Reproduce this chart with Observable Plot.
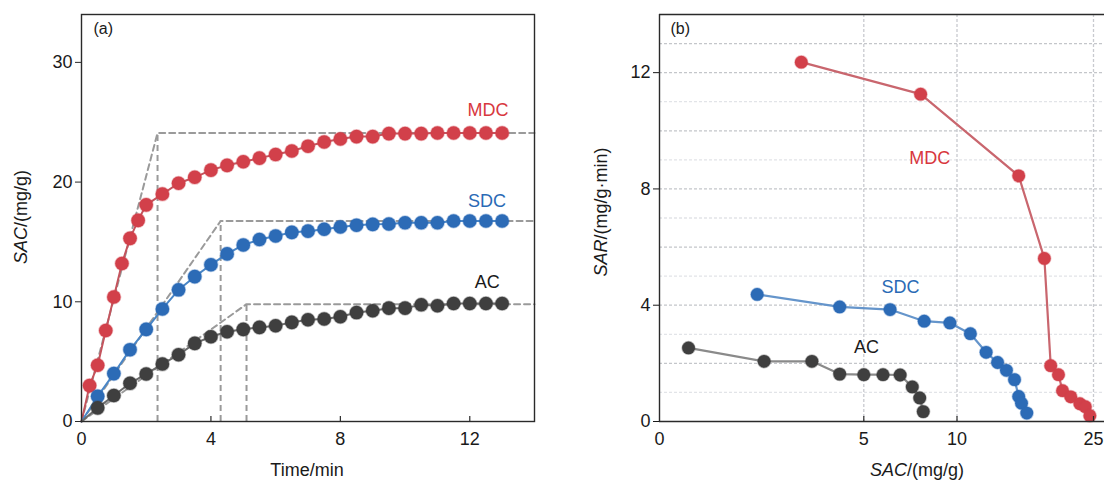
<!DOCTYPE html>
<html><head><meta charset="utf-8">
<script src="https://cdn.jsdelivr.net/npm/d3@7"></script>
<script src="https://cdn.jsdelivr.net/npm/@observablehq/plot@0.6"></script>
<style>
body{margin:0;background:#fff;overflow:hidden;}
#wrap{display:flex;width:1104px;height:480px;overflow:hidden;}
#wrap svg{display:block;flex:none;}
</style></head><body><div id="wrap"></div>
<script>
// ---------- Panel (a): SAC vs time ----------
const timeMDC = [0.25,0.5,0.75,1,1.25,1.5,1.75,2,2.5,3,3.5,4,4.5,5,5.5,6,6.5,7,7.5,8,8.5,9,9.5,10,10.5,11,11.5,12,12.5,13];
const sacMDC  = [3.0,4.7,7.6,10.4,13.2,15.3,16.8,18.1,19.0,19.9,20.4,21.0,21.4,21.7,22.0,22.3,22.6,23.0,23.35,23.6,23.8,23.8,24.05,24.05,24.05,24.1,24.1,24.1,24.1,24.1];
const timeSDC = [0.5,1,1.5,2,2.5,3,3.5,4,4.5,5,5.5,6,6.5,7,7.5,8,8.5,9,9.5,10,10.5,11,11.5,12,12.5,13];
const sacSDC  = [2.1,4.0,6.0,7.7,9.4,11.0,12.1,13.1,14.0,14.75,15.2,15.5,15.8,15.9,16.06,16.25,16.4,16.47,16.5,16.6,16.6,16.6,16.75,16.75,16.75,16.75];
const timeAC  = [0.5,1,1.5,2,2.5,3,3.5,4,4.5,5,5.5,6,6.5,7,7.5,8,8.5,9,9.5,10,10.5,11,11.5,12,12.5,13];
const sacAC   = [1.14,2.17,3.19,3.97,4.8,5.58,6.53,7.08,7.5,7.7,7.86,8.0,8.28,8.5,8.56,8.75,9.1,9.25,9.47,9.47,9.75,9.67,9.86,9.86,9.86,9.86];
// equilibrium knees (dashed guides)
const kneeTime = [2.35, 4.3, 5.1];
const kneeSAC  = [24.1, 16.75, 9.8];
const seriesNames = ["MDC","SDC","AC"];
const xTicksA = [0,4,8,12];
const yTicksA = [0,10,20,30];
const xMaxA = 14, yMaxA = 34;

// ---------- Panel (b): SAR vs SAC ----------
const sacB_MDC = [3.47,8.05,16.78,19.6,20.3,21.15,21.6,22.5,23.5,24.1,24.6];
const sarB_MDC = [12.36,11.26,8.45,5.61,1.92,1.61,1.06,0.85,0.61,0.51,0.2];
const sacB_SDC = [2.39,4.41,6.41,8.24,9.62,11.47,13.2,14.46,15.43,16.32,16.78,17.09,17.67];
const sarB_SDC = [4.37,3.94,3.85,3.45,3.39,3.02,2.38,2.03,1.76,1.44,0.86,0.63,0.29];
const sacB_AC  = [0.71,2.56,3.73,4.41,5.0,6.03,6.95,7.6,8.0,8.19];
const sarB_AC  = [2.53,2.07,2.07,1.63,1.61,1.61,1.6,1.19,0.81,0.34];
const xTicksB = [0,5,10,25];
const yTicksB = [0,4,8,12];
const gridMajorB = [2,4,6,8,10,12,13];
const gridMinorB = [1,3,5,7,9,11];
const gridXB = [5,10,25];

const dotColor  = {MDC:"#d2404a", SDC:"#2c6bb6", AC:"#3f3f3f"};
const lineColor = {MDC:"#c4545d", SDC:"#4a86c6", AC:"#6a6a6a"};
const lineColorB= {MDC:"#c9666e", SDC:"#6595cb", AC:"#8a8a8a"};
const textColor = {MDC:"#d8373e", SDC:"#2a6ab5", AC:"#1a1a1a"};

const FONT = "'Liberation Sans', Arial, Helvetica, sans-serif";
const FS = 18;

const zip = (name, xs, ys) => xs.map((x,i)=>({s:name, x, y:ys[i]}));
const A = [...zip("MDC",timeMDC,sacMDC), ...zip("SDC",timeSDC,sacSDC), ...zip("AC",timeAC,sacAC)];
const Aline = seriesNames.flatMap(n => [{s:n,x:0,y:0}, ...A.filter(d=>d.s===n)]);
const guides = seriesNames.flatMap((n,i)=>[{s:n,x:0,y:0},{s:n,x:kneeTime[i],y:kneeSAC[i]},{s:n,x:xMaxA,y:kneeSAC[i]}]);
const guideV = seriesNames.map((n,i)=>({x:kneeTime[i], y:kneeSAC[i]}));

const B = [...zip("MDC",sacB_MDC,sarB_MDC), ...zip("SDC",sacB_SDC,sarB_SDC), ...zip("AC",sacB_AC,sarB_AC)];

const W = 552, H = 480;
const mlA = 81, mrA = 18, mt = 14, mb = 59;

const plotA = Plot.plot({
  width: W, height: H,
  marginLeft: mlA, marginRight: mrA, marginTop: mt, marginBottom: mb,
  style: {fontFamily: FONT, fontSize: FS+"px", color:"#1a1a1a", background:"#fff"},
  x: {domain:[0,xMaxA]},
  y: {domain:[0,yMaxA]},
  marks: [
    Plot.ruleX(guideV, {x:"x", y1:0, y2:"y", stroke:"#9a9a9a", strokeWidth:2, strokeDasharray:"6,4"}),
    Plot.line(guides, {x:"x", y:"y", z:"s", stroke:"#9a9a9a", strokeWidth:2, strokeDasharray:"6,4"}),
    Plot.line(Aline, {x:"x", y:"y", z:"s", stroke:d=>lineColor[d.s], strokeWidth:2}),
    Plot.dot(A, {x:"x", y:"y", r:6.8, fill:d=>dotColor[d.s], stroke:d=>dotColor[d.s], strokeOpacity:0.35, strokeWidth:1.5}),
    Plot.frame({stroke:"#2a2a2a", strokeWidth:1.4}),
    Plot.ruleX(xTicksA.slice(1), {stroke:"#2a2a2a", strokeWidth:1.2, insetTop: H-mt-mb-5}),
    Plot.axisX({ticks:xTicksA, tickSize:0, tickPadding:11, label:null}),
    Plot.axisY({ticks:yTicksA, tickSize:6, tickPadding:3, label:null, stroke:"#2a2a2a"}),
    Plot.text(["(a)"], {frameAnchor:"top-left", dx:12, dy:8, fontSize:16, fill:"#1a1a1a"}),
    Plot.text(seriesNames, {x:[13.2,13.12,12.93], y:[26.04,18.4,11.63], text:d=>d, textAnchor:"end", fill:d=>textColor[d], fontSize:FS}),
  ]
});

const mlB = 107;
const plotB = Plot.plot({
  width: W, height: H,
  marginLeft: mlB, marginRight: 0, marginTop: mt, marginBottom: mb,
  style: {fontFamily: FONT, fontSize: FS+"px", color:"#1a1a1a", background:"#fff"},
  x: {type:"linear", domain:[0,5,10,25,26.3], range:[107,311.3,404.5,541,552.8]},
  y: {domain:[0,14]},
  marks: [
    Plot.ruleY(gridMinorB, {stroke:"#e2e4e8", strokeWidth:1.3, strokeDasharray:"3,2"}),
    Plot.ruleY(gridMajorB, {stroke:"#c4c6ca", strokeWidth:1.3, strokeDasharray:"3,2"}),
    Plot.ruleX(gridXB, {stroke:"#c8cacf", strokeWidth:1.3, strokeDasharray:"3,2"}),
    Plot.line(B, {x:"x", y:"y", z:"s", stroke:d=>lineColorB[d.s], strokeWidth:2.2}),
    Plot.dot(B, {x:"x", y:"y", r:6.4, fill:d=>dotColor[d.s], stroke:d=>dotColor[d.s], strokeOpacity:0.35, strokeWidth:1.5}),
    Plot.ruleY([0], {stroke:"#2a2a2a", strokeWidth:1.4}),
    Plot.ruleY([14], {stroke:"#2a2a2a", strokeWidth:1.4}),
    Plot.ruleX([0], {stroke:"#2a2a2a", strokeWidth:1.4}),
    Plot.ruleX(xTicksB.slice(1), {stroke:"#2a2a2a", strokeWidth:1.2, insetTop: H-mt-mb-5}),
    Plot.axisX({ticks:xTicksB, tickSize:0, tickPadding:11, label:null, tickFormat:d=>String(d)}),
    Plot.axisY({ticks:yTicksB, tickSize:6, tickPadding:3, label:null}),
    Plot.text(["(b)"], {frameAnchor:"top-left", dx:11, dy:8, fontSize:16, fill:"#1a1a1a"}),
    Plot.text(seriesNames, {x:[7.44,5.95,4.76], y:[9.05,4.63,2.56], text:d=>d, textAnchor:"start", fill:d=>textColor[d], fontSize:FS}),
  ]
});

function addLabel(svg, x, y, rot, parts) {
  const t = d3.select(svg).append("text")
    .attr("transform", `translate(${x},${y}) rotate(${rot})`)
    .attr("text-anchor","middle")
    .attr("font-family", FONT).attr("font-size", FS).attr("fill","#1a1a1a");
  parts.forEach(([s,it]) => t.append("tspan").text(s).attr("font-style", it ? "italic" : "normal"));
}
addLabel(plotA, 307, 476, 0, [["Time/min",false]]);
addLabel(plotA, 27, 217, -90, [["SAC",true],["/(mg/g)",false]]);
addLabel(plotB, 365, 476, 0, [["SAC",true],["/(mg/g)",false]]);
addLabel(plotB, 55, 212, -90, [["SAR",true],["/(mg/g·min)",false]]);

document.getElementById("wrap").append(plotA, plotB);
</script>
</body></html>
